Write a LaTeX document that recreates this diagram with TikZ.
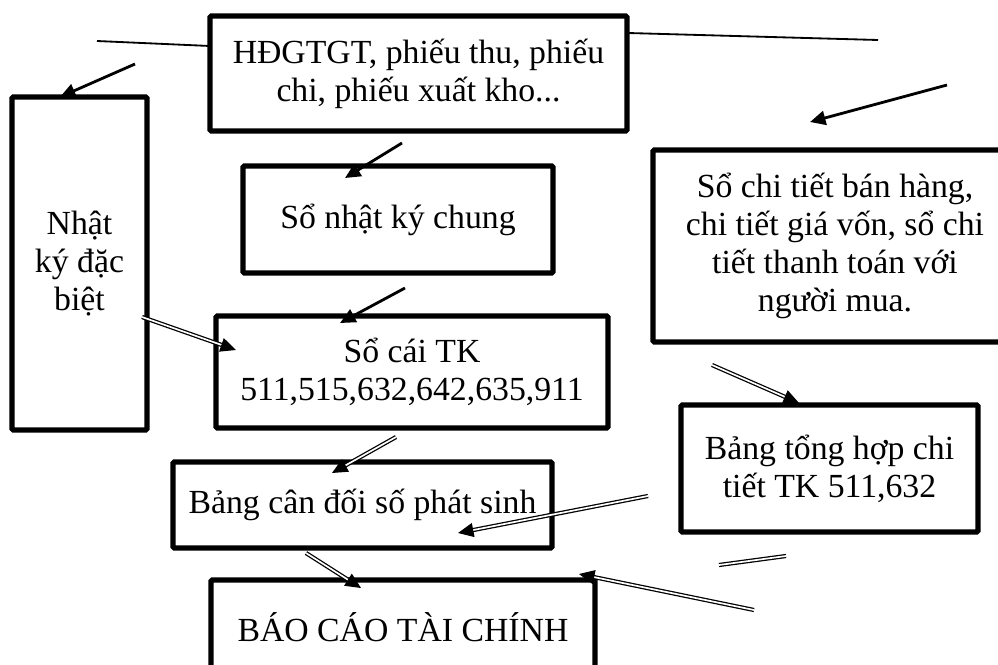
\documentclass[tikz,border=0pt]{standalone}
\usepackage{fontspec}
\setmainfont{Liberation Serif}
\usetikzlibrary{arrows.meta}

\begin{document}
\begin{tikzpicture}[
    x=0.025cm, y=-0.025cm,
    box/.style={
        rectangle, draw, line width=3.7pt, rounded corners=1pt,
        align=center, inner sep=0pt,
        font=\fontsize{24}{27}\selectfont
    },
    plain/.style={line width=1.3pt},
    conn/.style={-{Triangle[length=11pt,width=10pt]}, line width=2pt},
    dconn/.style={double, line width=0.9pt, double distance=1.2pt,
        -{Triangle[length=11pt,width=10pt]}},
    dline/.style={double, line width=0.9pt, double distance=1.2pt}
]
    \useasboundingbox (0,0) rectangle (998,664);
    \clip (0,0) rectangle (998,664);

    % Nodes
    \node[box, minimum width=10.425cm, minimum height=2.875cm] (docs) at (418.5,73.5)
        {HĐGTGT, phiếu thu, phiếu\\chi, phiếu xuất kho...};
    \node[box, minimum width=3.375cm, minimum height=8.325cm] (nkdb) at (79.5,263.5)
        {Nhật\\ký đặc\\biệt};
    \node[box, minimum width=7.75cm, minimum height=2.675cm] (nkc) at (398,219.5)
        {Sổ nhật ký chung};
    \node[box, minimum width=9.8cm, minimum height=2.8cm] (socai) at (412,372)
        {Sổ cái TK\\511,515,632,642,635,911};
    \node[box, minimum width=9.1cm, minimum height=4.8cm] (chitiet) at (835,246)
        {Sổ chi tiết bán hàng,\\chi tiết giá vốn, sổ chi\\tiết thanh toán với\\người mua.};
    \node[box, minimum width=7.425cm, minimum height=3.175cm] (tonghop) at (829.5,468.5)
        {Bảng tổng hợp chi\\tiết TK 511,632};
    \node[box, minimum width=9.475cm, minimum height=2.15cm] (candoi) at (362.5,505)
        {\raisebox{-0.18cm}{Bảng cân đối số phát sinh}};
    \node[box, minimum width=9.6cm, minimum height=2.375cm] (bctc) at (403,627.5)
        {BÁO CÁO TÀI CHÍNH};

    % Free ends
    \coordinate (l1a) at (97,41);
    \coordinate (l1b) at (210,46);
    \coordinate (l2a) at (628,33);
    \coordinate (l2b) at (878,40);
    \coordinate (a1a) at (135,64);
    \coordinate (a1b) at (60,97);
    \coordinate (a2a) at (947,85);
    \coordinate (a2b) at (810,122);
    \coordinate (a3a) at (402,143);
    \coordinate (a3b) at (345,178);
    \coordinate (a4a) at (405,288);
    \coordinate (a4b) at (340,323);
    \coordinate (d1a) at (142,317);
    \coordinate (d1b) at (236,350);
    \coordinate (d2a) at (712,365);
    \coordinate (d2b) at (799,403);
    \coordinate (d3a) at (396,437);
    \coordinate (d3b) at (332,473);
    \coordinate (d4a) at (648,496);
    \coordinate (d4b) at (458,533);
    \coordinate (d5a) at (306,553);
    \coordinate (d5b) at (361,588);
    \coordinate (d6a) at (754,610);
    \coordinate (d6b) at (579,574);
    \coordinate (e1a) at (719,565);
    \coordinate (e1b) at (786,556);

    % Connections
    \draw[plain] (l1a) -- (l1b);
    \draw[plain] (l2a) -- (l2b);
    \draw[conn] (a1a) -- (a1b);
    \draw[conn] (a2a) -- (a2b);
    \draw[conn] (a3a) -- (a3b);
    \draw[conn] (a4a) -- (a4b);
    \draw[dconn] (d1a) -- (d1b);
    \draw[dconn] (d2a) -- (d2b);
    \draw[dconn] (d3a) -- (d3b);
    \draw[dconn] (d4a) -- (d4b);
    \draw[dconn] (d5a) -- (d5b);
    \draw[dconn] (d6a) -- (d6b);
    \draw[dline] (e1a) -- (e1b);

\end{tikzpicture}
\end{document}
